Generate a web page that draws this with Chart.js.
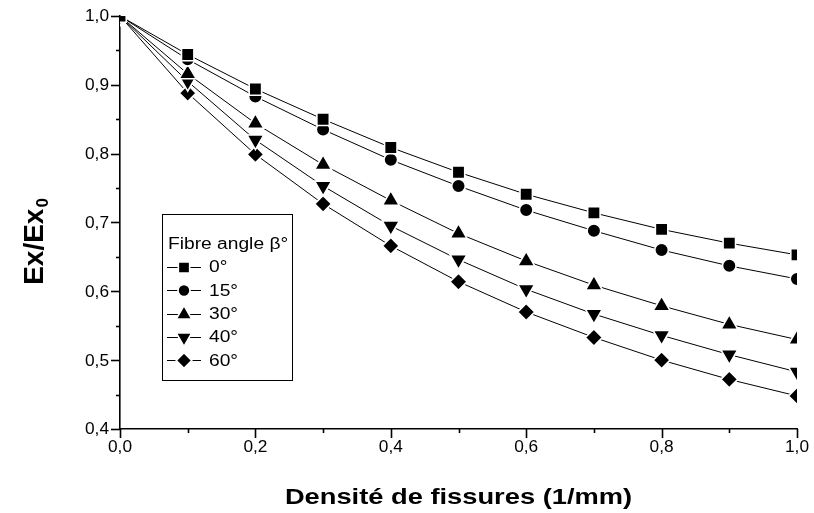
<!DOCTYPE html>
<html>
<head>
<meta charset="utf-8">
<script src="https://cdn.jsdelivr.net/npm/chart.js@4.4.0/dist/chart.umd.min.js"></script>
<style>
  html, body { margin: 0; padding: 0; background: #fff; }
  canvas { display: block; }
</style>
</head>
<body>
<canvas id="chart" width="814" height="513"></canvas>
<script>
// Crack density (1/mm)
const density = [0.0, 0.1, 0.2, 0.3, 0.4, 0.5, 0.6, 0.7, 0.8, 0.9, 1.0];

// Normalised longitudinal modulus Ex/Ex0 for each fibre angle
const beta0  = [1.000, 0.944, 0.894, 0.850, 0.809, 0.773, 0.741, 0.714, 0.690, 0.670, 0.653];
const beta15 = [1.000, 0.937, 0.883, 0.835, 0.791, 0.753, 0.718, 0.688, 0.660, 0.637, 0.618];
const beta30 = [1.000, 0.916, 0.844, 0.784, 0.732, 0.684, 0.644, 0.609, 0.579, 0.552, 0.530];
const beta40 = [1.000, 0.905, 0.820, 0.753, 0.695, 0.646, 0.603, 0.567, 0.536, 0.508, 0.483];
const beta60 = [1.000, 0.888, 0.799, 0.727, 0.666, 0.614, 0.570, 0.533, 0.500, 0.472, 0.448];

const seriesLabels = ['0°', '15°', '30°', '40°', '60°'];
const legendTitle = 'Fibre angle β°';
const xTitle = 'Densité de fissures (1/mm)';
const yTitleMain = 'Ex/Ex';
const yTitleSub = '0';

const FONT = '"Liberation Sans", Arial, sans-serif';

const markers = [
  { style: 'rect',     radius: 8.8, rotation: 0 },
  { style: 'circle',   radius: 6.8, rotation: 0 },
  { style: 'triangle', radius: 9.8, rotation: 0 },
  { style: 'triangle', radius: 9.8, rotation: 180 },
  { style: 'rectRot',  radius: 8.5, rotation: 0 }
];

const values = [beta0, beta15, beta30, beta40, beta60];

function pts(arr) {
  return density.map((d, i) => ({ x: d, y: arr[i] }));
}

const datasets = values.map((arr, i) => ({
  label: seriesLabels[i],
  data: pts(arr),
  borderColor: '#000',
  borderWidth: 1,
  tension: 0,
  pointStyle: markers[i].style,
  pointRadius: markers[i].radius,
  pointRotation: markers[i].rotation,
  pointBackgroundColor: '#000',
  pointBorderColor: '#fff',
  pointBorderWidth: 1.6,
  pointHoverRadius: markers[i].radius
}));

function fmt(v) {
  return v.toFixed(1).replace('.', ',');
}

function stretchedText(ctx, text, x, y, align, sx) {
  ctx.save();
  ctx.translate(x, y);
  ctx.scale(sx, 1);
  ctx.textAlign = align;
  ctx.fillText(text, 0, 0);
  ctx.restore();
}

// Tick marks (major + minor), tick labels, axis titles and the legend box
const decorations = {
  id: 'decorations',
  afterDraw(chart) {
    const ctx = chart.ctx;
    const xs = chart.scales.x;
    const ys = chart.scales.y;
    const area = chart.chartArea;
    ctx.save();
    ctx.strokeStyle = '#000';
    ctx.fillStyle = '#000';
    ctx.lineWidth = 1.6;

    // y ticks every 0.05, labelled every 0.1
    for (let k = 0; k <= 12; k++) {
      const v = 0.4 + k * 0.05;
      const py = Math.round(ys.getPixelForValue(v)) + 0.5;
      const len = k % 2 === 0 ? 9 : 4;
      ctx.beginPath();
      ctx.moveTo(area.left - len, py);
      ctx.lineTo(area.left, py);
      ctx.stroke();
    }
    // x ticks every 0.1, labelled every 0.2
    for (let k = 0; k <= 10; k++) {
      const v = k * 0.1;
      const px = Math.round(xs.getPixelForValue(v)) + 0.5;
      const len = k % 2 === 0 ? 9 : 4;
      ctx.beginPath();
      ctx.moveTo(px, area.bottom);
      ctx.lineTo(px, area.bottom + len);
      ctx.stroke();
    }

    // tick labels
    ctx.font = '16px ' + FONT;
    ctx.textBaseline = 'middle';
    ys.ticks.forEach(t => {
      stretchedText(ctx, fmt(t.value), area.left - 11, ys.getPixelForValue(t.value) + 1, 'right', 1.08);
    });
    xs.ticks.forEach(t => {
      stretchedText(ctx, fmt(t.value), xs.getPixelForValue(t.value), area.bottom + 19, 'center', 1.08);
    });

    // x axis title
    ctx.font = 'bold 22px ' + FONT;
    ctx.textBaseline = 'alphabetic';
    stretchedText(ctx, xTitle, (area.left + area.right) / 2, 504, 'center', 1.24);

    // y axis title with subscript
    ctx.save();
    ctx.translate(43, 242);
    ctx.rotate(-Math.PI / 2);
    ctx.font = 'bold 28px ' + FONT;
    const wMain = ctx.measureText(yTitleMain).width;
    ctx.font = 'bold 17px ' + FONT;
    const wSub = ctx.measureText(yTitleSub).width;
    const start = -(wMain + wSub) / 2;
    ctx.textAlign = 'left';
    ctx.font = 'bold 28px ' + FONT;
    ctx.fillText(yTitleMain, start, 0);
    ctx.font = 'bold 17px ' + FONT;
    ctx.fillText(yTitleSub, start + wMain + 1, 5);
    ctx.restore();

    // legend
    const box = { left: 162, top: 214, right: 292, bottom: 380 };
    ctx.lineWidth = 1;
    ctx.strokeStyle = '#000';
    ctx.fillStyle = '#fff';
    ctx.fillRect(box.left, box.top, box.right - box.left, box.bottom - box.top);
    ctx.strokeRect(box.left + 0.5, box.top + 0.5, box.right - box.left, box.bottom - box.top);
    ctx.fillStyle = '#000';
    ctx.font = '16px ' + FONT;
    ctx.textBaseline = 'middle';
    stretchedText(ctx, legendTitle, 168, 245, 'left', 1.2);
    chart.data.datasets.forEach((ds, i) => {
      const y = 267 + i * 23.3;
      ctx.strokeStyle = '#000';
      ctx.lineWidth = 1;
      ctx.beginPath();
      ctx.moveTo(167, Math.round(y) + 0.5);
      ctx.lineTo(201, Math.round(y) + 0.5);
      ctx.stroke();
      ctx.fillStyle = '#000';
      ctx.strokeStyle = '#fff';
      ctx.lineWidth = 1.6;
      Chart.helpers.drawPoint(ctx, {
        pointStyle: ds.pointStyle,
        rotation: ds.pointRotation,
        radius: ds.pointRadius - 0.8,
        borderWidth: 1.6
      }, 184, Math.round(y) + 0.5);
      ctx.fillStyle = '#000';
      stretchedText(ctx, ds.label, 209, y + 1, 'left', 1.2);
    });
    ctx.restore();
  }
};

new Chart(document.getElementById('chart'), {
  type: 'line',
  data: { datasets },
  options: {
    responsive: false,
    animation: false,
    devicePixelRatio: 1,
    layout: { padding: { top: 16, right: 17, left: 0, bottom: 0 } },
    plugins: {
      legend: { display: false },
      title: { display: false },
      tooltip: { enabled: false }
    },
    scales: {
      x: {
        type: 'linear',
        min: 0,
        max: 1,
        ticks: { display: false, stepSize: 0.2 },
        grid: { display: false, drawTicks: false },
        border: { display: true, color: '#000', width: 1.6 },
        afterFit(scale) { scale.height = 84; }
      },
      y: {
        type: 'linear',
        min: 0.4,
        max: 1.0,
        ticks: { display: false, stepSize: 0.1 },
        grid: { display: false, drawTicks: false },
        border: { display: true, color: '#000', width: 1.6 },
        afterFit(scale) { scale.width = 120; }
      }
    }
  },
  plugins: [decorations]
});
</script>
</body>
</html>
